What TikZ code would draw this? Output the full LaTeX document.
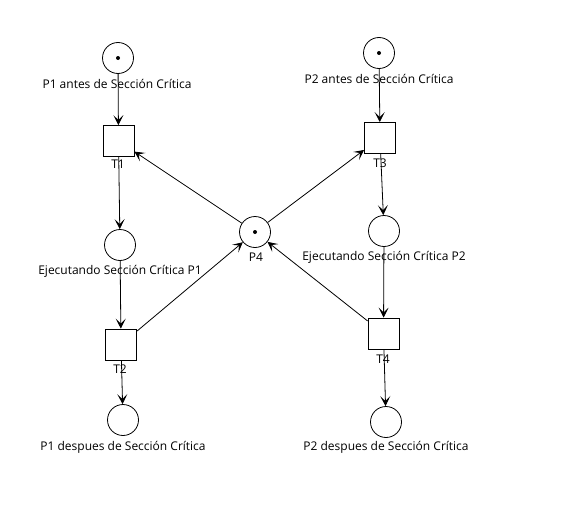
\documentclass[tikz,border=0pt]{standalone}
\usepackage{fontspec}
\setmainfont{Open Sans}
\usetikzlibrary{arrows.meta}
\begin{document}
\begin{tikzpicture}[x=1pt,y=-1pt,
  place/.style={draw,circle,minimum size=31pt,inner sep=0pt,line width=0.8pt},
  trans/.style={draw,rectangle,minimum size=31pt,inner sep=0pt,line width=0.8pt},
  lbl/.style={font=\fontsize{12}{14}\selectfont,inner sep=0pt,yshift=-1.5pt},
  tok/.style={fill,circle,minimum size=4pt,inner sep=0pt},
  arc/.style={-{Stealth[length=10pt,width=10pt,inset=5pt]},line width=0.8pt,black}]
\useasboundingbox (0,0) rectangle (561,519);
\fill[white] (0,0) rectangle (561,519);
% places
\node[place] (pa1) at (118,58) {};
\node[tok] (ta1) at (118,58) {};
\node[place] (pe1) at (120,245) {};
\node[place] (pd1) at (123,420) {};
\node[place] (p4) at (255,232) {};
\node[tok] (t4tok) at (255,232) {};
\node[place] (pa2) at (379,53) {};
\node[tok] (ta2) at (379,53) {};
\node[place] (pe2) at (384,231) {};
\node[place] (pd2) at (386,422) {};
% transitions
\node[trans] (t1) at (118.5,141) {};
\node[trans] (t2) at (121,344.5) {};
\node[trans] (t3) at (380,138) {};
\node[trans] (t4) at (383.5,333.5) {};
% arcs
\draw[arc] (pa1) -- (t1);
\draw[arc] (t1) -- (pe1);
\draw[arc] (pe1) -- (t2);
\draw[arc] (t2) -- (pd1);
\draw[arc] (p4) -- (t1);
\draw[arc] (p4) -- (t3);
\draw[arc] (t2) -- (p4);
\draw[arc] (t4) -- (p4);
\draw[arc] (pa2) -- (t3);
\draw[arc] (t3) -- (pe2);
\draw[arc] (pe2) -- (t4);
\draw[arc] (t4) -- (pd2);
% labels
\node[lbl] (la1) at (117,82) {P1 antes de Sección Crítica};
\node[lbl] (lt1) at (118,163) {T1};
\node[lbl] (le1) at (120,270) {Ejecutando Sección Crítica P1};
\node[lbl] (lt2) at (120,368) {T2};
\node[lbl] (ld1) at (123,446) {P1 despues de Sección Crítica};
\node[lbl] (lp4) at (256,256) {P4};
\node[lbl] (la2) at (379,77.5) {P2 antes de Sección Crítica};
\node[lbl] (lt3) at (380,162) {T3};
\node[lbl] (le2) at (384,255.5) {Ejecutando Sección Crítica P2};
\node[lbl] (lt4) at (383,358) {T4};
\node[lbl] (ld2) at (386,446) {P2 despues de Sección Crítica};
\end{tikzpicture}
\end{document}
